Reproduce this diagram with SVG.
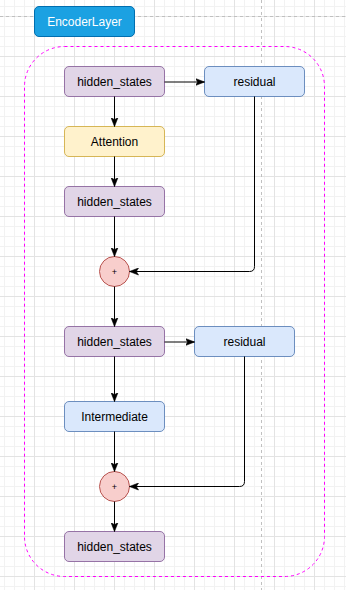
<svg xmlns="http://www.w3.org/2000/svg" width="346" height="590" viewBox="0 0 346 590">
  <defs>
    <pattern id="minor" width="10" height="10" patternUnits="userSpaceOnUse">
      <path d="M4.5 0V10M0 6.5H10" stroke="#f2f2f2" stroke-width="1" fill="none"/>
    </pattern>
    <pattern id="major" width="40" height="40" patternUnits="userSpaceOnUse">
      <path d="M34.5 0V40M0 16.5H40" stroke="#e3e3e3" stroke-width="1" fill="none"/>
    </pattern>
    <marker id="arrow" markerWidth="10" markerHeight="8" refX="9" refY="4" orient="auto" markerUnits="userSpaceOnUse">
      <path d="M0,0.5 L9,4 L0,7.5 L2.2,4 Z" fill="#000" stroke="#000" stroke-width="0.6"/>
    </marker>
    <style>
      .lbl { font-family: "Liberation Sans", Arial, Helvetica, sans-serif; font-size: 12px; fill: #000; text-anchor: middle; }
      .hs { fill: #e1d5e7; stroke: #9673a6; }
      .blue { fill: #dae8fc; stroke: #6c8ebf; }
      .yellow { fill: #fff2cc; stroke: #d6b656; }
      .plus { fill: #f8cecc; stroke: #b85450; }
      .edge { fill: none; stroke: #000; stroke-width: 1; marker-end: url(#arrow); }
    </style>
  </defs>

  <rect width="346" height="590" fill="#ffffff"/>
  <rect width="346" height="590" fill="url(#minor)"/>
  <rect width="346" height="590" fill="url(#major)"/>
  <path d="M0 16.5H346M261.5 0V590" stroke="#c0c0c0" stroke-width="1" stroke-dasharray="3 3" fill="none"/>

  <g id="container">
    <rect x="24.5" y="46.5" width="300" height="530" rx="40" ry="40" fill="none" stroke="#ff00ff" stroke-width="1" stroke-dasharray="3 3"/>
  </g>

  <g id="encoderlayer">
    <rect x="34.5" y="6.5" width="100" height="30" rx="4.5" fill="#1ba1e2" stroke="#006eaf"/>
    <text class="lbl" x="84.5" y="26" style="fill:#ffffff">EncoderLayer</text>
  </g>

  <g id="hidden_states_1">
    <rect class="hs" x="64.5" y="66.5" width="100" height="30" rx="4.5"/>
    <text class="lbl" x="114.5" y="86">hidden_states</text>
  </g>
  <g id="residual_1">
    <rect class="blue" x="204.5" y="66.5" width="100" height="30" rx="4.5"/>
    <text class="lbl" x="254.5" y="86">residual</text>
  </g>
  <g id="attention">
    <rect class="yellow" x="64.5" y="126.5" width="100" height="30" rx="4.5"/>
    <text class="lbl" x="114.5" y="146">Attention</text>
  </g>
  <g id="hidden_states_2">
    <rect class="hs" x="64.5" y="186.5" width="100" height="30" rx="4.5"/>
    <text class="lbl" x="114.5" y="206">hidden_states</text>
  </g>
  <g id="add_1">
    <circle class="plus" cx="114.5" cy="271.5" r="15"/>
    <text class="lbl" x="114.5" y="275" style="font-size:9px">+</text>
  </g>
  <g id="hidden_states_3">
    <rect class="hs" x="64.5" y="326.5" width="100" height="30" rx="4.5"/>
    <text class="lbl" x="114.5" y="346">hidden_states</text>
  </g>
  <g id="residual_2">
    <rect class="blue" x="194.5" y="326.5" width="100" height="30" rx="4.5"/>
    <text class="lbl" x="244.5" y="346">residual</text>
  </g>
  <g id="intermediate">
    <rect class="blue" x="64.5" y="401.5" width="100" height="30" rx="4.5"/>
    <text class="lbl" x="114.5" y="421">Intermediate</text>
  </g>
  <g id="add_2">
    <circle class="plus" cx="114.5" cy="486.5" r="15"/>
    <text class="lbl" x="114.5" y="490" style="font-size:9px">+</text>
  </g>
  <g id="hidden_states_4">
    <rect class="hs" x="64.5" y="531.5" width="100" height="30" rx="4.5"/>
    <text class="lbl" x="114.5" y="551">hidden_states</text>
  </g>

  <g id="connectors">
    <path class="edge" d="M164.5 82H204.5"/>
    <path class="edge" d="M114.5 96.5V126.5"/>
    <path class="edge" d="M114.5 156.5V186.5"/>
    <path class="edge" d="M114.5 216.5V256.5"/>
    <path class="edge" d="M254.5 96.5V266.5Q254.5 271.5 249.5 271.5H129.5"/>
    <path class="edge" d="M114.5 286.5V326.5"/>
    <path class="edge" d="M164.5 342H194.5"/>
    <path class="edge" d="M114.5 356.5V401.5"/>
    <path class="edge" d="M114.5 431.5V471.5"/>
    <path class="edge" d="M244.5 356.5V481.5Q244.5 486.5 239.5 486.5H129.5"/>
    <path class="edge" d="M114.5 501.5V531.5"/>
  </g>
</svg>
